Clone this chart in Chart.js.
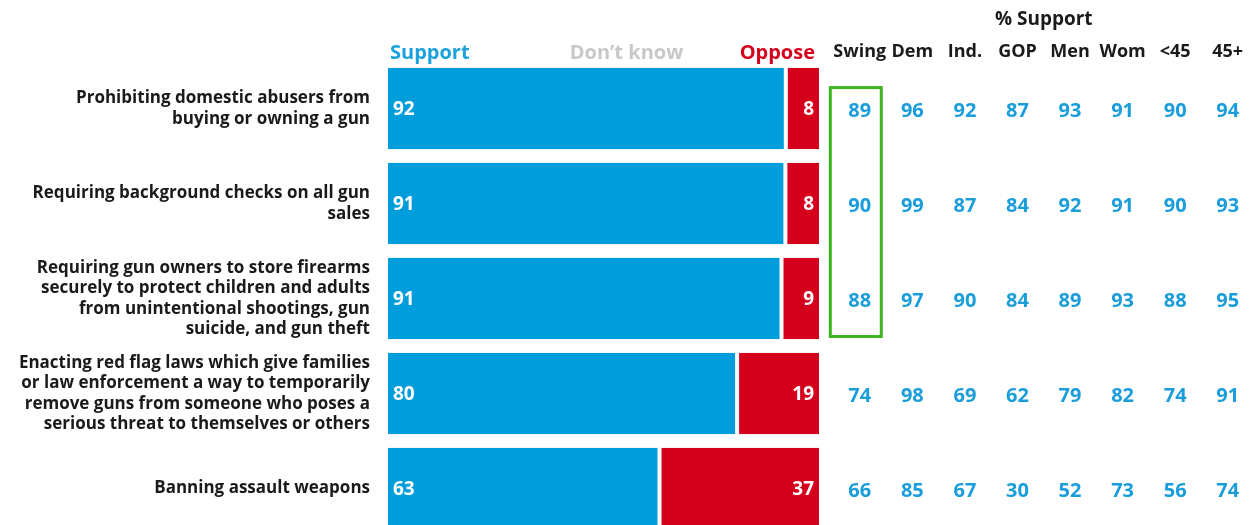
<!DOCTYPE html>
<html>
<head>
<meta charset="utf-8">
<script src="https://cdn.jsdelivr.net/npm/chart.js@4/dist/chart.umd.min.js"></script>
<style>
  html, body { margin: 0; padding: 0; background: #fff; overflow: hidden; }
  #wrap { position: relative; width: 1250px; height: 525px; overflow: hidden; }
  #bars { position: absolute; left: 0; top: 0; }
  #table { position: absolute; left: 820px; top: 0; }
</style>
</head>
<body>
<div id="wrap">
  <canvas id="bars" width="820" height="550"></canvas>
  <canvas id="table" width="434" height="550"></canvas>
</div>
<script>
const categories = [
  ['Prohibiting domestic abusers from', 'buying or owning a gun'],
  ['Requiring background checks on all gun', 'sales'],
  ['Requiring gun owners to store firearms', 'securely to protect children and adults', 'from unintentional shootings, gun', 'suicide, and gun theft'],
  ['Enacting red flag laws which give families', 'or law enforcement a way to temporarily', 'remove guns from someone who poses a', 'serious threat to themselves or others'],
  ['Banning assault weapons']
];
// bar lengths (unrounded shares)
const support = [92.3, 92.2, 91.3, 81.0, 63.0];
const dontKnow = [0, 0, 0, 0, 0];
const oppose = [7.7, 7.8, 8.7, 19.0, 37.0];
// numbers printed on the bars
const supportText = [92, 91, 91, 80, 63];
const opposeText = [8, 8, 9, 19, 37];

const columns = ['Swing', 'Dem', 'Ind.', 'GOP', 'Men', 'Wom', '<45', '45+'];
const swing = [89, 90, 88, 74, 66];
const dem = [96, 99, 97, 98, 85];
const ind = [92, 87, 90, 69, 67];
const gop = [87, 84, 84, 62, 30];
const men = [93, 92, 89, 79, 52];
const wom = [91, 91, 93, 82, 73];
const under45 = [90, 90, 88, 74, 56];
const over45 = [94, 93, 95, 91, 74];
const tableValues = [swing, dem, ind, gop, men, wom, under45, over45];
const highlightRows = [0, 2]; // swing column, first to third row

const rowKeys = categories.map(c => c.join(' '));

const FONT = '"Open Sans", sans-serif';
const BLUE = '#009ddc';
const RED = '#d5001c';
const GREY = '#c8c8c8';
const TEXT = '#1a1a1a';

// white numbers inside the bars
const barLabels = {
  id: 'barLabels',
  afterDatasetsDraw(chart) {
    const ctx = chart.ctx;
    ctx.save();
    ctx.font = `700 19px ${FONT}`;
    ctx.fillStyle = '#fff';
    ctx.textBaseline = 'middle';
    chart.getDatasetMeta(0).data.forEach((bar, i) => {
      ctx.textAlign = 'left';
      ctx.fillText(supportText[i], bar.base + 5, bar.y + 1);
    });
    chart.getDatasetMeta(2).data.forEach((bar, i) => {
      ctx.textAlign = 'right';
      ctx.fillText(opposeText[i], bar.x - 5, bar.y + 1);
    });
    ctx.restore();
  }
};

// Support / Don't know / Oppose above the bars
const barHeader = {
  id: 'barHeader',
  afterDraw(chart) {
    const { ctx, chartArea } = chart;
    const y = chartArea.top - 8;
    ctx.save();
    ctx.font = `700 20px ${FONT}`;
    ctx.textBaseline = 'middle';
    ctx.fillStyle = '#1ba1de';
    ctx.textAlign = 'left';
    ctx.fillText(chart.data.datasets[0].label, chartArea.left + 2, y);
    ctx.fillStyle = GREY;
    ctx.textAlign = 'center';
    ctx.fillText(chart.data.datasets[1].label, (chartArea.left + chartArea.right) / 2 + 23, y);
    ctx.fillStyle = RED;
    ctx.textAlign = 'right';
    ctx.fillText(chart.data.datasets[2].label, chartArea.right - 4, y);
    ctx.restore();
  }
};

new Chart(document.getElementById('bars'), {
  type: 'bar',
  data: {
    labels: categories,
    datasets: [
      { label: 'Support', data: support, backgroundColor: BLUE, borderColor: '#fff', borderWidth: { right: 2 }, borderSkipped: false },
      { label: 'Don’t know', data: dontKnow, backgroundColor: GREY, borderWidth: 0 },
      { label: 'Oppose', data: oppose, backgroundColor: RED, borderColor: '#fff', borderWidth: { left: 2 }, borderSkipped: false }
    ]
  },
  options: {
    indexAxis: 'y',
    responsive: false,
    animation: false,
    layout: { padding: { top: 61, bottom: 14, right: 1, left: 0 } },
    datasets: { bar: { barPercentage: 0.86, categoryPercentage: 1 } },
    scales: {
      x: { stacked: true, min: 0, max: 100, display: false },
      y: {
        stacked: true,
        offset: true,
        grid: { display: false, drawTicks: false },
        border: { display: false },
        ticks: { color: TEXT, padding: 18, font: { family: FONT, size: 17, weight: 700, lineHeight: 1.2 } },
        afterFit: s => { s.width = 388; s.paddingTop = 0; s.paddingBottom = 0; }
      }
    },
    plugins: { legend: { display: false }, tooltip: { enabled: false } }
  },
  plugins: [barLabels, barHeader]
});

// % Support table, one invisible point per cell
const tableText = {
  id: 'tableText',
  afterDatasetsDraw(chart) {
    const ctx = chart.ctx;
    ctx.save();
    ctx.font = `700 20px ${FONT}`;
    ctx.fillStyle = '#1a9ddb';
    ctx.textAlign = 'center';
    ctx.textBaseline = 'middle';
    chart.data.datasets.forEach((ds, r) => {
      chart.getDatasetMeta(r).data.forEach((pt, j) => {
        ctx.fillText(tableValues[j][r], pt.x, pt.y + 3);
      });
    });
    // green box round the swing column
    const xs = chart.scales.x, ys = chart.scales.y;
    const colW = xs.getPixelForValue(1) - xs.getPixelForValue(0);
    const rowH = ys.getPixelForValue(1) - ys.getPixelForValue(0);
    const cx = xs.getPixelForValue(0) - 4;
    const top = ys.getPixelForValue(highlightRows[0]) - rowH * 0.22;
    const bottom = ys.getPixelForValue(highlightRows[1]) + rowH * 0.4;
    ctx.strokeStyle = '#3cb521';
    ctx.lineWidth = 3;
    ctx.strokeRect(cx - colW * 0.485, top, colW * 0.97, bottom - top);
    ctx.restore();
  }
};

new Chart(document.getElementById('table'), {
  type: 'scatter',
  data: {
    datasets: rowKeys.map(key => ({
      data: columns.map(col => ({ x: col, y: key })),
      pointRadius: 0
    }))
  },
  options: {
    responsive: false,
    animation: false,
    layout: { padding: { top: 0, bottom: 14, left: 13.5, right: 0 } },
    scales: {
      x: {
        type: 'category',
        labels: columns,
        position: 'top',
        offset: true,
        grid: { display: false, drawTicks: false },
        border: { display: false },
        ticks: { color: TEXT, padding: -2, autoSkip: false, maxRotation: 0, minRotation: 0, font: { family: FONT, size: 18, weight: 700 } },
        title: { display: true, text: '% Support', color: TEXT, padding: { top: 8, bottom: 0 }, font: { family: FONT, size: 19, weight: 700 } },
        afterFit: s => { s.height = 61; s.paddingLeft = 0; s.paddingRight = 0; }
      },
      y: { type: 'category', labels: rowKeys, offset: true, display: false }
    },
    plugins: { legend: { display: false }, tooltip: { enabled: false } }
  },
  plugins: [tableText]
});
</script>
</body>
</html>
